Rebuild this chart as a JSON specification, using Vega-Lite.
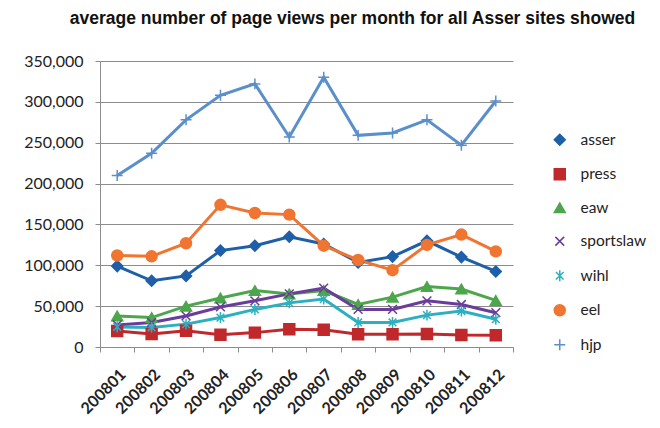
{
  "$schema": "https://vega.github.io/schema/vega-lite/v6.json",
  "autosize": {"type": "none"},
  "padding": {"left": 100, "top": 61, "right": 147, "bottom": 81},
  "width": 413,
  "height": 286,
  "background": "white",
  "title": {
    "text": "average number of page views per month for all Asser sites showed",
    "font": "Liberation Sans",
    "fontSize": 17.5,
    "fontWeight": "bold",
    "color": "#111111",
    "anchor": "middle",
    "dx": 46,
    "offset": 26
  },
  "config": {
    "view": {"stroke": null},
    "font": "Lato",
    "legend": {
      "title": null,
      "orient": "none",
      "legendX": 452,
      "legendY": 71,
      "labelFontSize": 15.5,
      "labelFont": "Lato",
      "labelColor": "#222222",
      "symbolSize": 120,
      "symbolStrokeWidth": 1.5,
      "rowPadding": 16.5,
      "labelOffset": 13
    }
  },
  "data": {
    "values": [
      {"month": "200801", "site": "asser", "views": 99000},
      {"month": "200802", "site": "asser", "views": 81000},
      {"month": "200803", "site": "asser", "views": 87000},
      {"month": "200804", "site": "asser", "views": 118000},
      {"month": "200805", "site": "asser", "views": 124000},
      {"month": "200806", "site": "asser", "views": 135000},
      {"month": "200807", "site": "asser", "views": 126000},
      {"month": "200808", "site": "asser", "views": 103500},
      {"month": "200809", "site": "asser", "views": 110600},
      {"month": "200810", "site": "asser", "views": 130000},
      {"month": "200811", "site": "asser", "views": 110000},
      {"month": "200812", "site": "asser", "views": 92500},
      {"month": "200801", "site": "press", "views": 19700},
      {"month": "200802", "site": "press", "views": 16000},
      {"month": "200803", "site": "press", "views": 20000},
      {"month": "200804", "site": "press", "views": 15000},
      {"month": "200805", "site": "press", "views": 17600},
      {"month": "200806", "site": "press", "views": 21700},
      {"month": "200807", "site": "press", "views": 21000},
      {"month": "200808", "site": "press", "views": 15600},
      {"month": "200809", "site": "press", "views": 15600},
      {"month": "200810", "site": "press", "views": 16000},
      {"month": "200811", "site": "press", "views": 14700},
      {"month": "200812", "site": "press", "views": 14500},
      {"month": "200801", "site": "eaw", "views": 38000},
      {"month": "200802", "site": "eaw", "views": 36000},
      {"month": "200803", "site": "eaw", "views": 50000},
      {"month": "200804", "site": "eaw", "views": 60000},
      {"month": "200805", "site": "eaw", "views": 69000},
      {"month": "200806", "site": "eaw", "views": 65000},
      {"month": "200807", "site": "eaw", "views": 69000},
      {"month": "200808", "site": "eaw", "views": 52000},
      {"month": "200809", "site": "eaw", "views": 61000},
      {"month": "200810", "site": "eaw", "views": 74000},
      {"month": "200811", "site": "eaw", "views": 71000},
      {"month": "200812", "site": "eaw", "views": 57000},
      {"month": "200801", "site": "sportslaw", "views": 27000},
      {"month": "200802", "site": "sportslaw", "views": 30000},
      {"month": "200803", "site": "sportslaw", "views": 38000},
      {"month": "200804", "site": "sportslaw", "views": 49000},
      {"month": "200805", "site": "sportslaw", "views": 56500},
      {"month": "200806", "site": "sportslaw", "views": 65000},
      {"month": "200807", "site": "sportslaw", "views": 72000},
      {"month": "200808", "site": "sportslaw", "views": 46000},
      {"month": "200809", "site": "sportslaw", "views": 46000},
      {"month": "200810", "site": "sportslaw", "views": 56500},
      {"month": "200811", "site": "sportslaw", "views": 52000},
      {"month": "200812", "site": "sportslaw", "views": 42000},
      {"month": "200801", "site": "wihl", "views": 24600},
      {"month": "200802", "site": "wihl", "views": 24000},
      {"month": "200803", "site": "wihl", "views": 28000},
      {"month": "200804", "site": "wihl", "views": 36000},
      {"month": "200805", "site": "wihl", "views": 46000},
      {"month": "200806", "site": "wihl", "views": 54000},
      {"month": "200807", "site": "wihl", "views": 58600},
      {"month": "200808", "site": "wihl", "views": 30000},
      {"month": "200809", "site": "wihl", "views": 30000},
      {"month": "200810", "site": "wihl", "views": 39000},
      {"month": "200811", "site": "wihl", "views": 44000},
      {"month": "200812", "site": "wihl", "views": 34000},
      {"month": "200801", "site": "eel", "views": 112000},
      {"month": "200802", "site": "eel", "views": 111000},
      {"month": "200803", "site": "eel", "views": 127000},
      {"month": "200804", "site": "eel", "views": 174000},
      {"month": "200805", "site": "eel", "views": 164000},
      {"month": "200806", "site": "eel", "views": 162000},
      {"month": "200807", "site": "eel", "views": 124000},
      {"month": "200808", "site": "eel", "views": 106500},
      {"month": "200809", "site": "eel", "views": 94000},
      {"month": "200810", "site": "eel", "views": 125000},
      {"month": "200811", "site": "eel", "views": 137600},
      {"month": "200812", "site": "eel", "views": 117000},
      {"month": "200801", "site": "hjp", "views": 210000},
      {"month": "200802", "site": "hjp", "views": 237000},
      {"month": "200803", "site": "hjp", "views": 278000},
      {"month": "200804", "site": "hjp", "views": 308000},
      {"month": "200805", "site": "hjp", "views": 322000},
      {"month": "200806", "site": "hjp", "views": 257000},
      {"month": "200807", "site": "hjp", "views": 330000},
      {"month": "200808", "site": "hjp", "views": 259000},
      {"month": "200809", "site": "hjp", "views": 262000},
      {"month": "200810", "site": "hjp", "views": 278000},
      {"month": "200811", "site": "hjp", "views": 247000},
      {"month": "200812", "site": "hjp", "views": 301000}
    ]
  },
  "encoding": {
    "x": {
      "field": "month",
      "type": "ordinal",
      "bandPosition": 0.5,
      "scale": {"type": "band", "paddingInner": 0, "paddingOuter": 0},
      "axis": {
        "title": null,
        "labelAngle": -45,
        "labelFontSize": 16,
        "labelFontWeight": "bold",
        "labelColor": "#222222",
        "labelFont": "Lato",
        "tickBand": "extent",
        "domainColor": "#8c8c8c",
        "tickColor": "#8c8c8c",
        "tickSize": 5,
        "labelPadding": 14,
        "grid": false
      }
    },
    "y": {
      "field": "views",
      "type": "quantitative",
      "scale": {"domain": [0, 350000], "nice": false},
      "axis": {
        "title": null,
        "values": [0, 50000, 100000, 150000, 200000, 250000, 300000, 350000],
        "format": ",.0f",
        "labelFontSize": 16,
        "labelColor": "#222222",
        "labelFont": "Lato",
        "gridColor": "#8c8c8c",
        "gridWidth": 1,
        "domainColor": "#8c8c8c",
        "tickColor": "#8c8c8c",
        "tickSize": 5,
        "labelPadding": 12
      }
    }
  },
  "layer": [
    {
      "mark": {"type": "line", "strokeWidth": 3},
      "encoding": {
        "stroke": {
          "field": "site",
          "type": "nominal",
          "scale": {
            "domain": ["asser", "press", "eaw", "sportslaw", "wihl", "eel", "hjp"],
            "range": ["#1f5fa8", "#c0282b", "#4ca64c", "#6a3d9a", "#2bb0c0", "#f07530", "#5b8fcb"]
          }
        }
      }
    },
    {
      "mark": {"type": "point", "filled": true, "strokeWidth": 1.5, "opacity": 1},
      "encoding": {
        "fill": {
          "field": "site",
          "type": "nominal",
          "scale": {
            "domain": ["asser", "press", "eaw", "sportslaw", "wihl", "eel", "hjp"],
            "range": ["#1f5fa8", "#c0282b", "#4ca64c", "#6a3d9a", "#2bb0c0", "#f07530", "#5b8fcb"]
          }
        },
        "stroke": {
          "field": "site",
          "type": "nominal",
          "scale": {
            "domain": ["asser", "press", "eaw", "sportslaw", "wihl", "eel", "hjp"],
            "range": ["#1f5fa8", "#c0282b", "#4ca64c", "#6a3d9a", "#2bb0c0", "#f07530", "#5b8fcb"]
          }
        },
        "shape": {
          "field": "site",
          "type": "nominal",
          "scale": {
            "domain": ["asser", "press", "eaw", "sportslaw", "wihl", "eel", "hjp"],
            "range": ["diamond", "square", "triangle-up", "M-0.8,-0.8L0.8,0.8M0.8,-0.8L-0.8,0.8", "M-0.7,-0.7L0.7,0.7M0.7,-0.7L-0.7,0.7M0,-1L0,1", "circle", "M-1,0L1,0M0,-1L0,1"]
          }
        },
        "size": {"value": 120}
      }
    }
  ]
}
